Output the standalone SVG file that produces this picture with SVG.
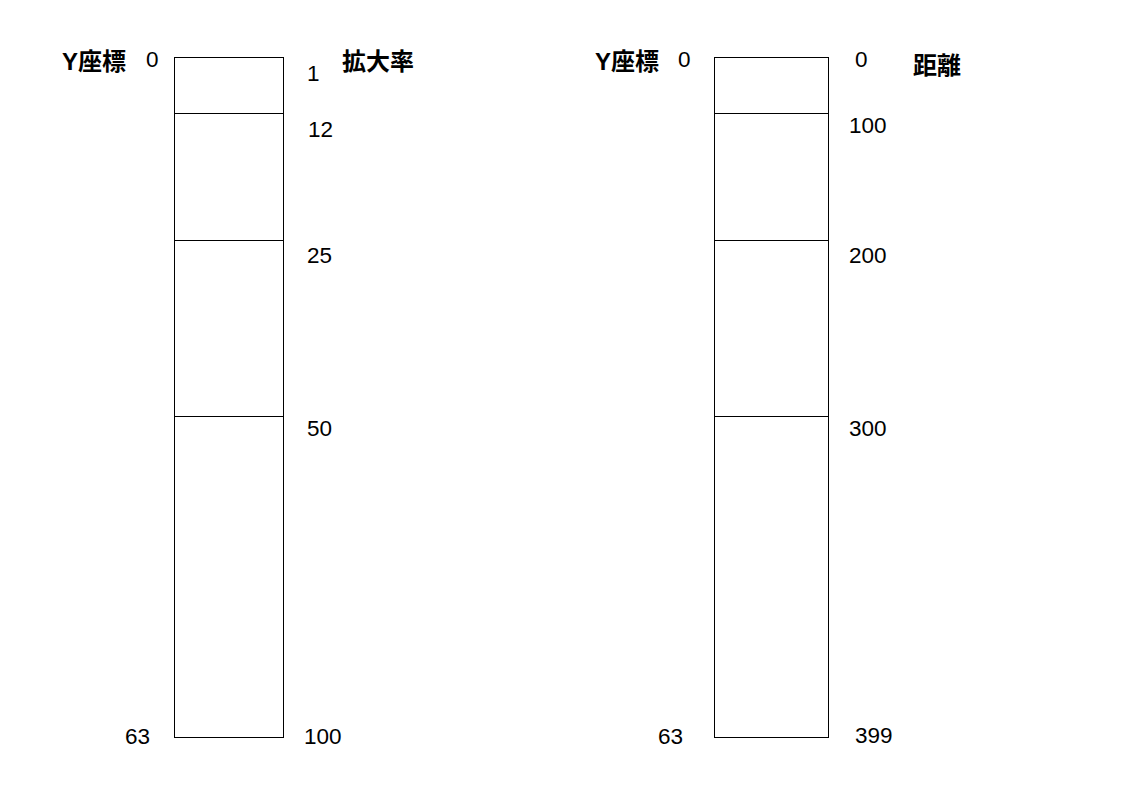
<svg xmlns="http://www.w3.org/2000/svg" width="1123" height="794" viewBox="0 0 1123 794">
<style>
.n{font-family:"Liberation Sans",Arial,sans-serif;font-size:22.5px;fill:#000}
.b{font-family:"Liberation Sans","Noto Sans CJK JP",sans-serif;font-size:24px;font-weight:bold;fill:#000}
.r{fill:#fff;stroke:#000;stroke-width:1}
.l{stroke:#000;stroke-width:1}
</style>
<rect width="1123" height="794" fill="#fff"/>
<g id="left">
<rect class="r" x="174.5" y="57.5" width="109" height="680"/>
<line class="l" x1="174.5" y1="113.5" x2="283.5" y2="113.5"/>
<line class="l" x1="174.5" y1="240.5" x2="283.5" y2="240.5"/>
<line class="l" x1="174.5" y1="416.5" x2="283.5" y2="416.5"/>
<text class="b" x="62" y="70">Y座標</text>
<text class="n" x="146" y="67">0</text>
<text class="n" x="125" y="744">63</text>
<text class="b" x="342" y="70">拡大率</text>
<text class="n" x="307" y="81">1</text>
<text class="n" x="308" y="137">12</text>
<text class="n" x="307" y="263">25</text>
<text class="n" x="307" y="436">50</text>
<text class="n" x="304" y="744">100</text>
</g>
<g id="right">
<rect class="r" x="714.5" y="57.5" width="114" height="680"/>
<line class="l" x1="714.5" y1="113.5" x2="828.5" y2="113.5"/>
<line class="l" x1="714.5" y1="240.5" x2="828.5" y2="240.5"/>
<line class="l" x1="714.5" y1="416.5" x2="828.5" y2="416.5"/>
<text class="b" x="595" y="70">Y座標</text>
<text class="n" x="678" y="67">0</text>
<text class="n" x="658" y="744">63</text>
<text class="n" x="855" y="67">0</text>
<text class="b" x="913" y="74">距離</text>
<text class="n" x="849" y="133">100</text>
<text class="n" x="849" y="263">200</text>
<text class="n" x="849" y="436">300</text>
<text class="n" x="855" y="743">399</text>
</g>
<g id="connectors"></g>
</svg>
